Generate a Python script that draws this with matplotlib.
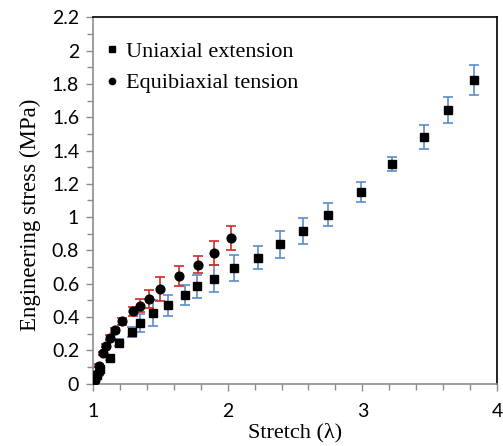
import numpy as np
import matplotlib.pyplot as plt
from matplotlib.ticker import MultipleLocator, FuncFormatter

# uniaxial extension (squares)
uni_x = [1.03, 1.05, 1.125, 1.195, 1.287, 1.347, 1.446, 1.558, 1.683, 1.773, 1.9, 2.044,
         2.228, 2.39, 2.56, 2.746, 2.988, 3.223, 3.459, 3.64, 3.828]
uni_y = [0.05, 0.09, 0.155, 0.245, 0.31, 0.363, 0.425, 0.47, 0.531, 0.585, 0.63, 0.694,
         0.756, 0.836, 0.916, 1.015, 1.151, 1.319, 1.482, 1.643, 1.823]
uni_err = [0.01, 0.01, 0.015, 0.02, 0.03, 0.055, 0.08, 0.065, 0.06, 0.07, 0.08, 0.08,
           0.07, 0.08, 0.08, 0.07, 0.06, 0.04, 0.07, 0.08, 0.09]

# equibiaxial tension (circles)
equi_x = [1.013, 1.042, 1.045, 1.074, 1.094, 1.124, 1.166, 1.218, 1.297, 1.347, 1.416,
          1.496, 1.64, 1.777, 1.9, 2.028]
equi_y = [0.024, 0.068, 0.108, 0.182, 0.227, 0.275, 0.319, 0.373, 0.433, 0.469, 0.51,
          0.567, 0.646, 0.715, 0.785, 0.875]
equi_err = [0.01, 0.01, 0.01, 0.01, 0.01, 0.015, 0.015, 0.02, 0.025, 0.04, 0.055,
            0.072, 0.06, 0.05, 0.07, 0.07]

fig = plt.figure(figsize=(5.03, 4.46), dpi=100)
ax = fig.add_axes([0.185, 0.14, 0.803, 0.821])

blue = "#5b8bd0"
red = "#d42a2a"

ax.errorbar(uni_x, uni_y, yerr=uni_err, fmt="none", ecolor=blue, elinewidth=1.2,
            capsize=3.3, capthick=1.2, zorder=2)
ax.errorbar(equi_x, equi_y, yerr=equi_err, fmt="none", ecolor=red, elinewidth=1.2,
            capsize=3.3, capthick=1.2, zorder=2)
ax.plot(uni_x, uni_y, "s", color="black", markersize=6.2, linestyle="none", zorder=3)
ax.plot(equi_x, equi_y, "o", color="black", markersize=6.3, linestyle="none", zorder=3)

h1, = ax.plot([], [], "s", color="black", markersize=4.5, linestyle="none")
h2, = ax.plot([], [], "o", color="black", markersize=4.5, linestyle="none")
ax.legend([h1, h2], ["Uniaxial extension", "Equibiaxial tension"], loc="upper left",
          bbox_to_anchor=(-0.02, 0.99), frameon=False, handlelength=0.6, handletextpad=0.35,
          labelspacing=0.5, prop={"family": "Liberation Serif", "size": 16})

ax.set_xlim(1, 4)
ax.set_ylim(0, 2.2)
ax.xaxis.set_major_locator(MultipleLocator(1))
ax.xaxis.set_minor_locator(MultipleLocator(0.2))
ax.yaxis.set_major_locator(MultipleLocator(0.2))
ax.yaxis.set_minor_locator(MultipleLocator(0.1))
ax.yaxis.set_major_formatter(FuncFormatter(lambda v, p: f"{v:g}" if abs(v) > 1e-9 else "0"))

for s in ["left", "bottom"]:
    ax.spines[s].set_color("#8c8c8c")
    ax.spines[s].set_linewidth(1.2)
for s in ["top", "right"]:
    ax.spines[s].set_color("black")
    ax.spines[s].set_linewidth(1.2)

ax.tick_params(which="both", direction="out", color="#8c8c8c", width=1.0)
ax.tick_params(which="major", length=5, labelsize=14)
ax.tick_params(axis="x", which="major", pad=9)
ax.tick_params(axis="y", which="major", pad=5)
ax.tick_params(which="minor", length=4)
for lab in ax.get_xticklabels() + ax.get_yticklabels():
    lab.set_family("Lato")

ax.set_xlabel("Stretch (λ)", family="Liberation Serif", fontsize=16, labelpad=2)
ax.set_ylabel("Engineering stress (MPa)", family="Liberation Serif", fontsize=16.5)
ax.yaxis.set_label_coords(-0.13, 0.46)

fig.savefig("out.png", dpi=100)
